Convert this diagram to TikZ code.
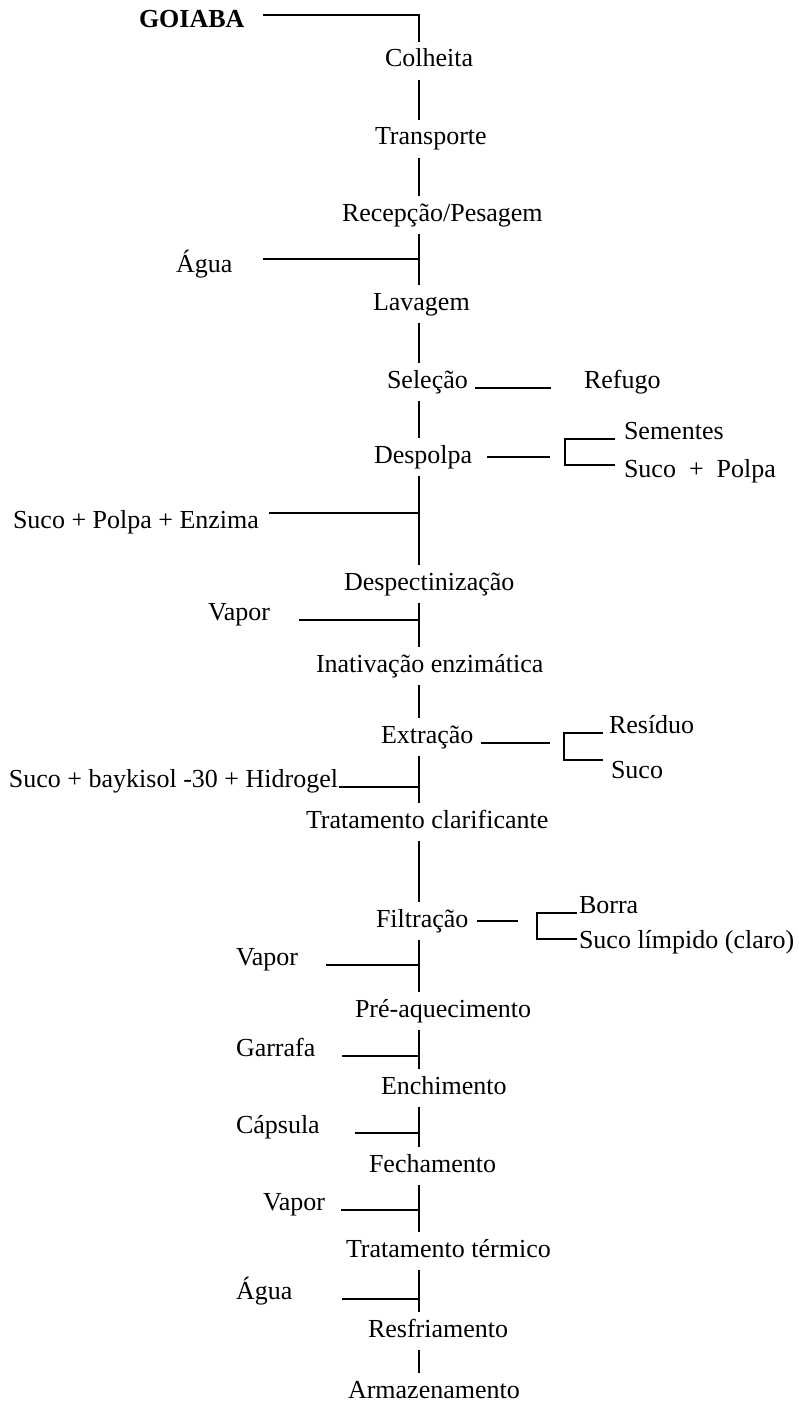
\documentclass[tikz,border=0pt]{standalone}
\usepackage{fontspec}
\setmainfont{Liberation Serif}

\tikzset{
  rotulo/.style={anchor=base west, inner xsep=0pt, inner ysep=6pt, text height=18pt, text depth=6pt},
}

\begin{document}
\begin{tikzpicture}[x=1pt, y=-1pt, line width=2pt, font=\fontsize{26}{30}\selectfont]
\useasboundingbox (0,0) rectangle (799,1407);
\coordinate (eixo) at (419,0);   % main vertical line

% etapas do processo
\node[rotulo] (goiaba)    at (138,28)   {\textbf{GOIABA}};
\node[rotulo] (colheita)  at (384,67)   {Colheita};
\node[rotulo] (transporte) at (374,145) {Transporte};
\node[rotulo] (recepcao)  at (341,221)  {Recepção/Pesagem};
\node[rotulo] (lavagem)   at (372,310)  {Lavagem};
\node[rotulo] (selecao)   at (386,388)  {Seleção};
\node[rotulo] (despolpa)  at (373,463)  {Despolpa};
\node[rotulo] (despect)   at (343,590)  {Despectinização};
\node[rotulo] (inativ)    at (315,672)  {Inativação enzimática};
\node[rotulo] (extracao)  at (380,743)  {Extração};
\node[rotulo] (tratclar)  at (305,828)  {Tratamento clarificante};
\node[rotulo] (filtracao) at (375,927)  {Filtração};
\node[rotulo] (preaq)     at (354,1017) {Pré-aquecimento};
\node[rotulo] (enchim)    at (380,1094) {Enchimento};
\node[rotulo] (fecham)    at (368,1172) {Fechamento};
\node[rotulo] (tratterm)  at (345,1257) {Tratamento térmico};
\node[rotulo] (resfr)     at (367,1337) {Resfriamento};
\node[rotulo] (armaz)     at (347,1398) {Armazenamento};

% entradas (lado esquerdo)
\node[rotulo] (agua)      at (175,272)  {Água};
\node[rotulo] (enzima)    at (12,528)   {Suco + Polpa + Enzima};
\node[rotulo] (vapora)    at (207,620)  {Vapor};
\node[rotulo] (baykisol)  at (8,787)    {Suco + baykisol -30 + Hidrogel};
\node[rotulo] (vaporb)    at (235,965)  {Vapor};
\node[rotulo] (garrafa)   at (235,1056) {Garrafa};
\node[rotulo] (capsula)   at (235,1133) {Cápsula};
\node[rotulo] (vaporc)    at (262,1210) {Vapor};
\node[rotulo] (aguab)     at (235,1299) {Água};

% saidas (lado direito)
\node[rotulo] (refugo)    at (583,388)  {Refugo};
\node[rotulo] (sementes)  at (623,439)  {Sementes};
\node[rotulo] (sucopolpa) at (623,477)  {Suco~~+~~Polpa};
\node[rotulo] (residuo)   at (608,733)  {Resíduo};
\node[rotulo] (suco)      at (610,778)  {Suco};
\node[rotulo] (borra)     at (578,913)  {Borra};
\node[rotulo] (limpido)   at (578,948)  {Suco límpido (claro)};

% linha principal
\draw ([xshift=18pt,yshift=13pt]goiaba.base east) -| (colheita.north -| eixo);
\foreach \a/\b in {colheita/transporte, transporte/recepcao, recepcao/lavagem,
    lavagem/selecao, selecao/despolpa, despolpa/despect, despect/inativ,
    inativ/extracao, extracao/tratclar, tratclar/filtracao, filtracao/preaq,
    preaq/enchim, enchim/fecham, fecham/tratterm, tratterm/resfr, resfr/armaz}
  \draw (\a.south -| eixo) -- (\b.north -| eixo);

% entradas ate a linha principal
\foreach \n/\dx/\dy in {agua/30/13, enzima/9/15, vapora/28/0, baykisol/0/0,
    vaporb/27/0, garrafa/26/0, capsula/34/0, vaporc/15/0, aguab/49/0}{
  \coordinate (\n-r) at ([xshift=\dx pt, yshift=\dy pt]\n.base east);
  \draw (\n-r) -- (\n-r -| eixo);
}

% saidas e chaves
\coordinate (chaveA) at (565,452);
\coordinate (chaveB) at (564,746);
\coordinate (chaveC) at (537,926);

\draw[shorten <=6pt, shorten >=32pt] (selecao.base east) -- (refugo.base west);

\draw[shorten <=14pt, shorten >=15pt] (despolpa.east) -- (despolpa.east -| chaveA);
\draw ([xshift=-8pt]sementes.base west) -| (chaveA) |- ([xshift=-8pt,yshift=12pt]sucopolpa.base west);

\draw[shorten <=7pt, shorten >=14pt] (extracao.base east) -- (extracao.base east -| chaveB);
\draw ([xshift=-5pt]residuo.base west) -| (chaveB) |- ([xshift=-7pt,yshift=18pt]suco.base west);

\draw[shorten <=8pt, shorten >=19pt] (filtracao.east) -- (filtracao.east -| chaveC);
\draw ([xshift=-1pt]borra.base west) -| (chaveC) |- ([xshift=-1pt,yshift=9pt]limpido.base west);

\end{tikzpicture}
\end{document}
